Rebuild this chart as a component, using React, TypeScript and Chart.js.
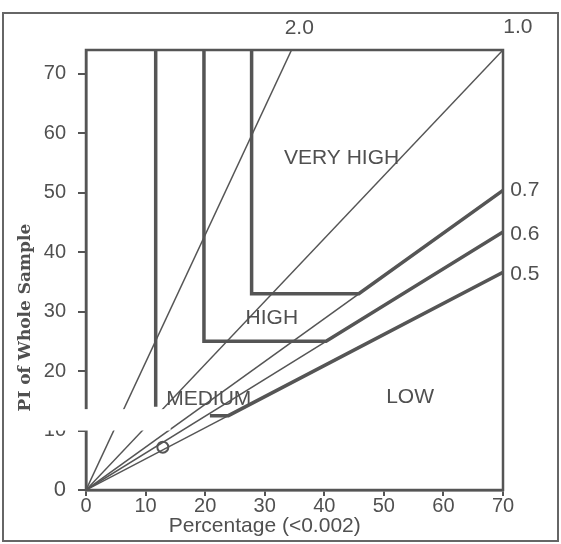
import React, { useEffect, useRef } from "react";
import { Chart, registerables } from "chart.js";

Chart.register(...registerables);

// ---- data ----
const xTickValues = [0, 10, 20, 30, 40, 50, 60, 70];
const yTickValues = [0, 10, 20, 30, 40, 50, 60, 70];

// thin ratio lines from the origin (activity lines)
const slopeLabels = ["2.0", "1.0", "0.7", "0.6", "0.5"];
const slopeThinEndX = [34.5, 70, 45.8, 40.3, 23.9];
const slopeThinEndY = [74, 74, 33, 25, 12.5];
const slopeLabelX = [35.8, 72.5, 71.2, 71.2, 71.2];
const slopeLabelY = [77.6, 77.9, 50.4, 43.0, 36.3];

// thick class boundaries
const veryHighX = [27.8, 27.8, 45.8, 70];
const veryHighY = [74, 33, 33, 50.4];
const highX = [19.8, 19.8, 40.3, 70];
const highY = [74, 25, 25, 43.4];
const mediumX = [11.7, 11.7];
const mediumY = [74, 14];
const lowX = [20.8, 23.9, 70];
const lowY = [12.5, 12.5, 36.6];

// class names
const regionLabels = ["VERY HIGH", "HIGH", "MEDIUM", "LOW"];
const regionX = [42.9, 31.2, 20.6, 54.4];
const regionY = [55.8, 28.9, 15.3, 15.6];

// single open marker
const markerX = [12.9];
const markerY = [7.2];

const xTitle = "Percentage (<0.002)";
const yTitle = "PI of Whole Sample";

// ---- style ----
const INK = "#555555";
const TEXT = "#505050";
const SANS = '"Liberation Sans", Arial, sans-serif';

const pts = (xs: number[], ys: number[]) => xs.map((x, i) => ({ x, y: ys[i] }));

const overlay = {
  id: "overlay",
  beforeDraw(chart: any) {
    const ctx = chart.ctx;
    ctx.save();
    ctx.fillStyle = "#fff";
    ctx.fillRect(0, 0, chart.width, chart.height);
    ctx.strokeStyle = "#666";
    ctx.lineWidth = 2;
    ctx.strokeRect(3, 13, 555, 528);
    ctx.restore();
  },
  afterDraw(chart: any) {
    const { ctx, chartArea: a, scales } = chart;
    const xs = scales.x;
    const ys = scales.y;
    ctx.save();
    // plot box
    ctx.strokeStyle = INK;
    ctx.lineWidth = 2.5;
    ctx.strokeRect(a.left, a.top, a.right - a.left, a.bottom - a.top);

    // blank band (as in the scanned original)
    ctx.fillStyle = "#fff";
    const bx0 = xs.getPixelForValue(-9.5);
    const bx1 = xs.getPixelForValue(14.2);
    const by0 = ys.getPixelForValue(13.6);
    const by1 = ys.getPixelForValue(10.0);
    ctx.fillRect(bx0, by0, bx1 - bx0, by1 - by0);

    ctx.fillStyle = TEXT;
    ctx.font = `21px ${SANS}`;
    ctx.textBaseline = "middle";
    // slope labels
    slopeLabels.forEach((t, i) => {
      ctx.textAlign = i < 2 ? "center" : "left";
      ctx.fillText(t, xs.getPixelForValue(slopeLabelX[i]), ys.getPixelForValue(slopeLabelY[i]));
    });
    // region labels
    ctx.textAlign = "center";
    regionLabels.forEach((t, i) => {
      ctx.fillText(t, xs.getPixelForValue(regionX[i]), ys.getPixelForValue(regionY[i]));
    });
    // axis titles
    ctx.fillText(xTitle, xs.getPixelForValue(30), a.bottom + 36);
    ctx.save();
    ctx.translate(26, ys.getPixelForValue(29));
    ctx.rotate(-Math.PI / 2);
    ctx.font = `bold 17px "DejaVu Serif", "Liberation Serif", serif`;
    ctx.fillText(yTitle, 0, 0);
    ctx.restore();
    ctx.restore();
  },
};

export default function App() {
  const ref = useRef<HTMLCanvasElement | null>(null);
  useEffect(() => {
    if (!ref.current) return;
    const thin = { borderColor: INK, borderWidth: 1.5, showLine: true, pointRadius: 0, fill: false };
    const thick = { borderColor: INK, borderWidth: 3.5, showLine: true, pointRadius: 0, fill: false };
    const datasets: any[] = [];
    slopeLabels.forEach((lab, i) => {
      datasets.push({ ...thin, label: lab, data: [{ x: 0, y: 0 }, { x: slopeThinEndX[i], y: slopeThinEndY[i] }] });
    });
    datasets.push({ ...thick, label: "very high", data: pts(veryHighX, veryHighY) });
    datasets.push({ ...thick, label: "high", data: pts(highX, highY) });
    datasets.push({ ...thick, label: "medium", data: pts(mediumX, mediumY) });
    datasets.push({ ...thick, label: "low", data: pts(lowX, lowY) });
    datasets.push({
      label: "marker",
      data: pts(markerX, markerY),
      showLine: false,
      pointRadius: 5.5,
      pointBackgroundColor: "#fff",
      pointBorderColor: INK,
      pointBorderWidth: 2,
    });

    const chart = new Chart(ref.current, {
      type: "scatter",
      data: { datasets },
      options: {
        animation: false,
        responsive: false,
        devicePixelRatio: 1,
        layout: { padding: { top: 50, right: 58, left: 0, bottom: 0 } },
        plugins: { legend: { display: false }, tooltip: { enabled: false } },
        elements: { line: { tension: 0 } },
        scales: {
          x: {
            type: "linear",
            min: 0,
            max: 70,
            afterFit: (s: any) => { s.height = 54; },
            afterBuildTicks: (s: any) => { s.ticks = xTickValues.map((v) => ({ value: v })); },
            grid: { drawOnChartArea: false, drawTicks: true, tickLength: 6, color: INK, lineWidth: 2 },
            border: { display: true, color: INK, width: 2.5 },
            ticks: { color: TEXT, padding: 0, font: { family: SANS, size: 20, lineHeight: 1 } },
          },
          y: {
            type: "linear",
            min: 0,
            max: 74,
            afterFit: (s: any) => { s.width = 86; },
            afterBuildTicks: (s: any) => { s.ticks = yTickValues.map((v) => ({ value: v })); },
            grid: { drawOnChartArea: false, drawTicks: true, tickLength: 8, color: INK, lineWidth: 2 },
            border: { display: true, color: INK, width: 2.5 },
            ticks: {
              color: TEXT,
              padding: 12,
              font: (c: any) => ({ family: SANS, size: c.tick && c.tick.value === 0 ? 22 : 20 }),
            },
          },
        },
      },
      plugins: [overlay],
    } as any);
    return () => chart.destroy();
  }, []);

  return (
    <div style={{ position: "fixed", left: 0, top: 0, width: 561, height: 544, background: "#fff" }}>
      <canvas ref={ref} width={561} height={544} style={{ display: "block" }} />
    </div>
  );
}
